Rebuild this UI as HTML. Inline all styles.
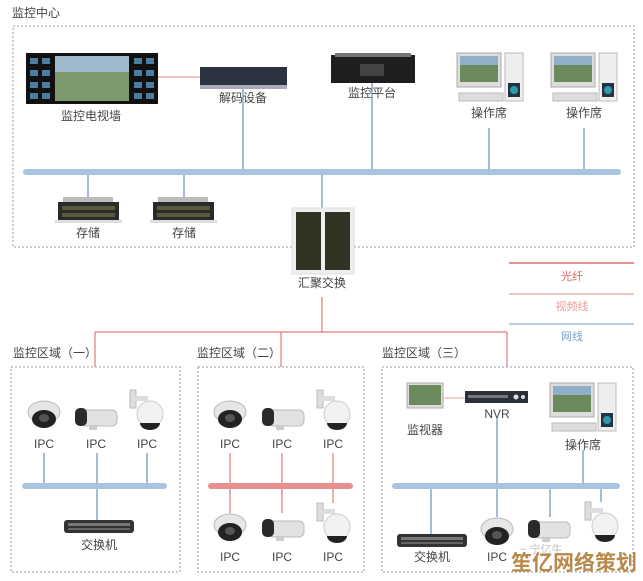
<!DOCTYPE html>
<html><head><meta charset="utf-8"><style>
html,body{margin:0;padding:0;background:#fff;}
svg{display:block}
text{font-family:"Liberation Sans","Noto Sans CJK SC",sans-serif;}
</style></head><body>
<svg width="643" height="581" viewBox="0 0 643 581" xmlns="http://www.w3.org/2000/svg">
<defs>
<g id="dome">
<ellipse cx="17" cy="12" rx="16" ry="11" fill="#e6e6e6" stroke="#bbb"/>
<ellipse cx="17" cy="19" rx="12" ry="9" fill="#222"/>
<ellipse cx="17" cy="18" rx="5" ry="4" fill="#555"/>
</g>
<g id="bullet">
<rect x="6" y="5" width="36" height="16" rx="5" fill="#e2e2e2" stroke="#bbb"/>
<rect x="0" y="3" width="12" height="18" rx="5" fill="#2a2a2a"/>
<rect x="14" y="20" width="8" height="5" fill="#ccc"/>
</g>
<g id="ptz">
<rect x="0" y="0" width="6" height="18" fill="#ddd" stroke="#bbb"/>
<rect x="4" y="6" width="14" height="5" fill="#ddd"/>
<circle cx="20" cy="24" r="13" fill="#f2f2f2" stroke="#ccc"/>
<path d="M10 33 a10 7 0 0 0 20 0z" fill="#222"/>
</g>
<g id="ws">
<rect x="0" y="0" width="44" height="34" fill="#ddd" stroke="#aaa"/>
<rect x="3" y="3" width="38" height="26" fill="#6d8a5c"/>
<rect x="3" y="3" width="38" height="9" fill="#8fb0c8"/>
<rect x="48" y="0" width="18" height="48" fill="#eee" stroke="#bbb"/>
<rect x="51" y="30" width="12" height="14" fill="#234"/>
<circle cx="57" cy="37" r="4" fill="#39a"/>
<rect x="2" y="40" width="44" height="8" fill="#ddd" stroke="#bbb"/>
</g>
<g id="sw">
<rect x="0" y="0" width="70" height="13" rx="3" fill="#333"/>
<rect x="4" y="3" width="62" height="3" fill="#777"/>
<rect x="4" y="8" width="62" height="2" fill="#666"/>
</g>
<g id="stor">
<rect x="5" y="0" width="50" height="6" fill="#bbb"/>
<rect x="0" y="5" width="61" height="20" fill="#2a2a2a"/>
<rect x="4" y="9" width="53" height="4" fill="#5a5a3a"/>
<rect x="4" y="16" width="53" height="4" fill="#5a5a3a"/>
<rect x="-3" y="23" width="67" height="3" fill="#ddd"/>
</g>
</defs>

<!-- Monitoring center -->
<text x="12" y="17" font-size="12" fill="#444">监控中心</text>
<rect x="13" y="26" width="621" height="221" fill="none" stroke="#999" stroke-dasharray="2,2"/>

<!-- bus lines -->
<line x1="243" y1="89" x2="243" y2="172" stroke="#6b8fb5" stroke-width="1.2"/>
<line x1="372" y1="83" x2="372" y2="172" stroke="#6b8fb5" stroke-width="1.2"/>
<line x1="489" y1="128" x2="489" y2="172" stroke="#6b8fb5" stroke-width="1.2"/>
<line x1="584" y1="128" x2="584" y2="172" stroke="#6b8fb5" stroke-width="1.2"/>
<line x1="88" y1="172" x2="88" y2="197" stroke="#6b8fb5" stroke-width="1.2"/>
<line x1="184" y1="172" x2="184" y2="197" stroke="#6b8fb5" stroke-width="1.2"/>
<line x1="322" y1="172" x2="322" y2="208" stroke="#6b8fb5" stroke-width="1.2"/>
<line x1="26" y1="172" x2="618" y2="172" stroke="#a7c4e0" stroke-width="6" stroke-linecap="round"/>

<!-- video wall -->
<rect x="26" y="53" width="132" height="51" fill="#111"/>
<rect x="55" y="56" width="74" height="45" fill="#7d9a6c"/>
<rect x="55" y="56" width="74" height="16" fill="#9fb8cc"/>
<g fill="#4a7da0"><rect x="30" y="58" width="8" height="6"/><rect x="42" y="58" width="8" height="6"/><rect x="30" y="70" width="8" height="6"/><rect x="42" y="70" width="8" height="6"/><rect x="30" y="82" width="8" height="6"/><rect x="42" y="82" width="8" height="6"/><rect x="30" y="93" width="8" height="6"/><rect x="42" y="93" width="8" height="6"/>
<rect x="134" y="58" width="8" height="6"/><rect x="146" y="58" width="8" height="6"/><rect x="134" y="70" width="8" height="6"/><rect x="146" y="70" width="8" height="6"/><rect x="134" y="82" width="8" height="6"/><rect x="146" y="82" width="8" height="6"/><rect x="134" y="93" width="8" height="6"/><rect x="146" y="93" width="8" height="6"/></g>
<text x="91" y="120" font-size="12" fill="#444" text-anchor="middle">监控电视墙</text>
<line x1="158" y1="77" x2="200" y2="77" stroke="#e08a8a" stroke-width="1"/>

<!-- decoder -->
<rect x="200" y="67" width="87" height="20" fill="#2c3340"/>
<rect x="200" y="85" width="87" height="4" fill="#aab"/>
<text x="243" y="102" font-size="12" fill="#444" text-anchor="middle">解码设备</text>

<!-- platform -->
<rect x="331" y="55" width="84" height="28" fill="#1e1e1e"/>
<rect x="335" y="53" width="76" height="4" fill="#777"/>
<rect x="360" y="64" width="24" height="12" fill="#444"/>
<text x="372" y="97" font-size="12" fill="#444" text-anchor="middle">监控平台</text>

<!-- workstations -->
<use href="#ws" x="457" y="53"/>
<text x="489" y="117" font-size="12" fill="#444" text-anchor="middle">操作席</text>
<use href="#ws" x="551" y="53"/>
<text x="584" y="117" font-size="12" fill="#444" text-anchor="middle">操作席</text>

<!-- storage -->
<use href="#stor" x="58" y="197"/>
<text x="88" y="237" font-size="12" fill="#444" text-anchor="middle">存储</text>
<use href="#stor" x="153" y="197"/>
<text x="184" y="237" font-size="12" fill="#444" text-anchor="middle">存储</text>

<!-- aggregation switch -->
<rect x="292" y="208" width="62" height="66" fill="#eee" stroke="#ddd"/>
<rect x="296" y="212" width="25" height="58" fill="#2e3322"/>
<rect x="325" y="212" width="25" height="58" fill="#2e3322"/>
<text x="322" y="287" font-size="12" fill="#444" text-anchor="middle">汇聚交换</text>

<!-- legend -->
<line x1="509" y1="263" x2="634" y2="263" stroke="#e06a6a" stroke-width="1.5"/>
<text x="572" y="280" font-size="11" fill="#e06a6a" text-anchor="middle">光纤</text>
<line x1="509" y1="294" x2="634" y2="294" stroke="#eab0b0" stroke-width="1.5"/>
<text x="572" y="310" font-size="11" fill="#e8a0a0" text-anchor="middle">视频线</text>
<line x1="509" y1="324" x2="634" y2="324" stroke="#9dbbe0" stroke-width="1.5"/>
<text x="572" y="340" font-size="11" fill="#7aa0d0" text-anchor="middle">网线</text>

<!-- red fiber tree -->
<g stroke="#e07a7a" stroke-width="1.2" fill="none">
<line x1="322" y1="297" x2="322" y2="332"/>
<line x1="95" y1="332" x2="507" y2="332"/>
<line x1="95" y1="332" x2="95" y2="367"/>
<line x1="281" y1="332" x2="281" y2="367"/>
<line x1="507" y1="332" x2="507" y2="367"/>
</g>

<!-- region labels -->
<text x="13" y="357" font-size="12" fill="#444">监控区域（一）</text>
<text x="197" y="357" font-size="12" fill="#444">监控区域（二）</text>
<text x="382" y="357" font-size="12" fill="#444">监控区域（三）</text>
<rect x="11" y="367" width="169" height="205" fill="none" stroke="#999" stroke-dasharray="2,2"/>
<rect x="198" y="367" width="166" height="205" fill="none" stroke="#999" stroke-dasharray="2,2"/>
<rect x="382" y="367" width="251" height="205" fill="none" stroke="#999" stroke-dasharray="2,2"/>

<!-- region 1 -->
<g stroke="#6b8fb5" stroke-width="1.2">
<line x1="44" y1="453" x2="44" y2="486"/><line x1="97" y1="453" x2="97" y2="520"/><line x1="147" y1="453" x2="147" y2="486"/></g>
<line x1="25" y1="486" x2="164" y2="486" stroke="#a7c4e0" stroke-width="6" stroke-linecap="round"/>
<use href="#dome" x="27" y="400"/><use href="#bullet" x="75" y="405"/><use href="#ptz" x="130" y="390"/>
<g font-size="12" fill="#444" text-anchor="middle"><text x="44" y="448">IPC</text><text x="96" y="448">IPC</text><text x="147" y="448">IPC</text></g>
<use href="#sw" x="64" y="520"/>
<text x="99" y="549" font-size="12" fill="#444" text-anchor="middle">交换机</text>

<!-- region 2 -->
<g stroke="#e07a7a" stroke-width="1.2">
<line x1="230" y1="453" x2="230" y2="513"/><line x1="282" y1="453" x2="282" y2="513"/><line x1="333" y1="453" x2="333" y2="503"/></g>
<line x1="211" y1="486" x2="350" y2="486" stroke="#e89090" stroke-width="6" stroke-linecap="round"/>
<use href="#dome" x="213" y="400"/><use href="#bullet" x="262" y="405"/><use href="#ptz" x="317" y="390"/>
<g font-size="12" fill="#444" text-anchor="middle"><text x="230" y="448">IPC</text><text x="282" y="448">IPC</text><text x="333" y="448">IPC</text></g>
<use href="#dome" x="213" y="513"/><use href="#bullet" x="262" y="516"/><use href="#ptz" x="317" y="503"/>
<g font-size="12" fill="#444" text-anchor="middle"><text x="230" y="561">IPC</text><text x="282" y="561">IPC</text><text x="333" y="561">IPC</text></g>

<!-- region 3 -->
<g stroke="#6b8fb5" stroke-width="1.2">
<line x1="497" y1="418" x2="497" y2="517"/><line x1="583" y1="450" x2="583" y2="486"/>
<line x1="431" y1="486" x2="431" y2="534"/><line x1="550" y1="486" x2="550" y2="517"/><line x1="601" y1="486" x2="601" y2="502"/></g>
<line x1="395" y1="486" x2="617" y2="486" stroke="#a7c4e0" stroke-width="6" stroke-linecap="round"/>
<rect x="407" y="383" width="36" height="25" fill="#ddd" stroke="#aaa"/>
<rect x="409" y="385" width="32" height="20" fill="#6d8a5c"/>
<line x1="443" y1="398" x2="465" y2="398" stroke="#e8a0a0" stroke-width="1"/>
<rect x="465" y="391" width="63" height="12" fill="#2a2f3a"/>
<rect x="468" y="395" width="40" height="3" fill="#777"/>
<circle cx="516" cy="397" r="2.5" fill="#ddd"/><circle cx="523" cy="397" r="2" fill="#ddd"/>
<text x="497" y="418" font-size="12" fill="#444" text-anchor="middle">NVR</text>
<text x="425" y="434" font-size="12" fill="#444" text-anchor="middle">监视器</text>
<use href="#ws" x="550" y="383"/>
<text x="583" y="449" font-size="12" fill="#444" text-anchor="middle">操作席</text>
<use href="#sw" x="397" y="534"/>
<text x="432" y="561" font-size="12" fill="#444" text-anchor="middle">交换机</text>
<use href="#dome" x="480" y="517"/><use href="#bullet" x="528" y="517"/><use href="#ptz" x="585" y="502"/>
<text x="497" y="561" font-size="12" fill="#444" text-anchor="middle">IPC</text>

<!-- watermark -->
<text x="520" y="553" font-size="11" fill="#999" opacity="0.6">~ 宁亿牛</text>
<text x="574" y="570" font-size="21" font-weight="bold" fill="#b8894a" text-anchor="middle">笙亿网络策划</text>
</svg>
</body></html>
